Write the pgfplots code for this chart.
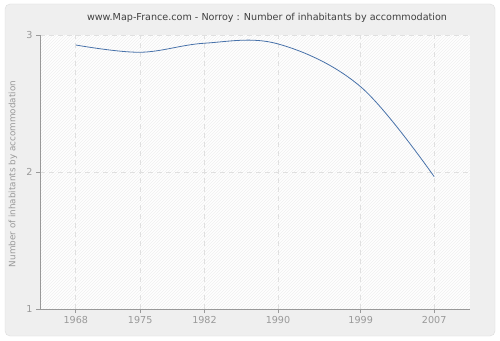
\documentclass[border=0pt]{standalone}
\usepackage{pgfplots}
\pgfplotsset{compat=1.18}
\usepackage{fontspec}
\setmainfont{DejaVu Sans}
\usetikzlibrary{patterns}
\definecolor{bgc}{HTML}{EFEFEF}
\definecolor{bdc}{HTML}{DDDDDD}
\definecolor{linec}{HTML}{4872AA}
\definecolor{tickc}{HTML}{999999}
\definecolor{gridc}{HTML}{E0E0E0}
\definecolor{axc}{HTML}{999999}
\begin{document}
\begin{tikzpicture}[x=1pt,y=1pt]
\fill[white] (0,0) rectangle (500,340);
\draw[bdc, fill=bgc, rounded corners=5pt] (5,4) rectangle (495,336);
\node[text=black!75, font=\fontsize{9.6}{11}\selectfont] at (267,322) {www.Map-France.com - Norroy : Number of inhabitants by accommodation};
\begin{axis}[
  at={(40pt,31pt)}, anchor=south west,
  scale only axis, width=430pt, height=274pt,
  xmin=1964.1, xmax=2010.9, ymin=1, ymax=3,
  axis x line*=bottom, axis y line*=left,
  axis line style={axc, line width=0.8pt},
  xtick={1968,1975,1982,1990,1999,2007},
  ytick={1,2,3},
  xticklabel style={/pgf/number format/1000 sep={}},
  /pgf/number format/assume math mode=true,
  tick label style={text=tickc, font=\fontsize{9.6}{11}\selectfont},
  tick align=outside, major tick length=4pt,
  tick style={axc, line width=0.8pt},
  grid=major,
  major grid style={gridc, dash pattern=on 5pt off 4pt, line width=0.7pt},
  ylabel={Number of inhabitants by accommodation},
  every axis y label/.style={at={(axis description cs:0,0.5)}, rotate=90, anchor=center, yshift=27pt, xshift=-2pt, text=tickc, font=\fontsize{8.8}{10}\selectfont},
  axis background/.style={fill=white, postaction={pattern=north east lines, pattern color=black!6}},
  clip=false,
]
\addplot[linec, line width=0.8pt, smooth, tension=0.6] coordinates {
(1968,2.927) (1975,2.874) (1982,2.940) (1990,2.935) (1999,2.622) (2007,1.966)
};
\end{axis}
\end{tikzpicture}
\end{document}
